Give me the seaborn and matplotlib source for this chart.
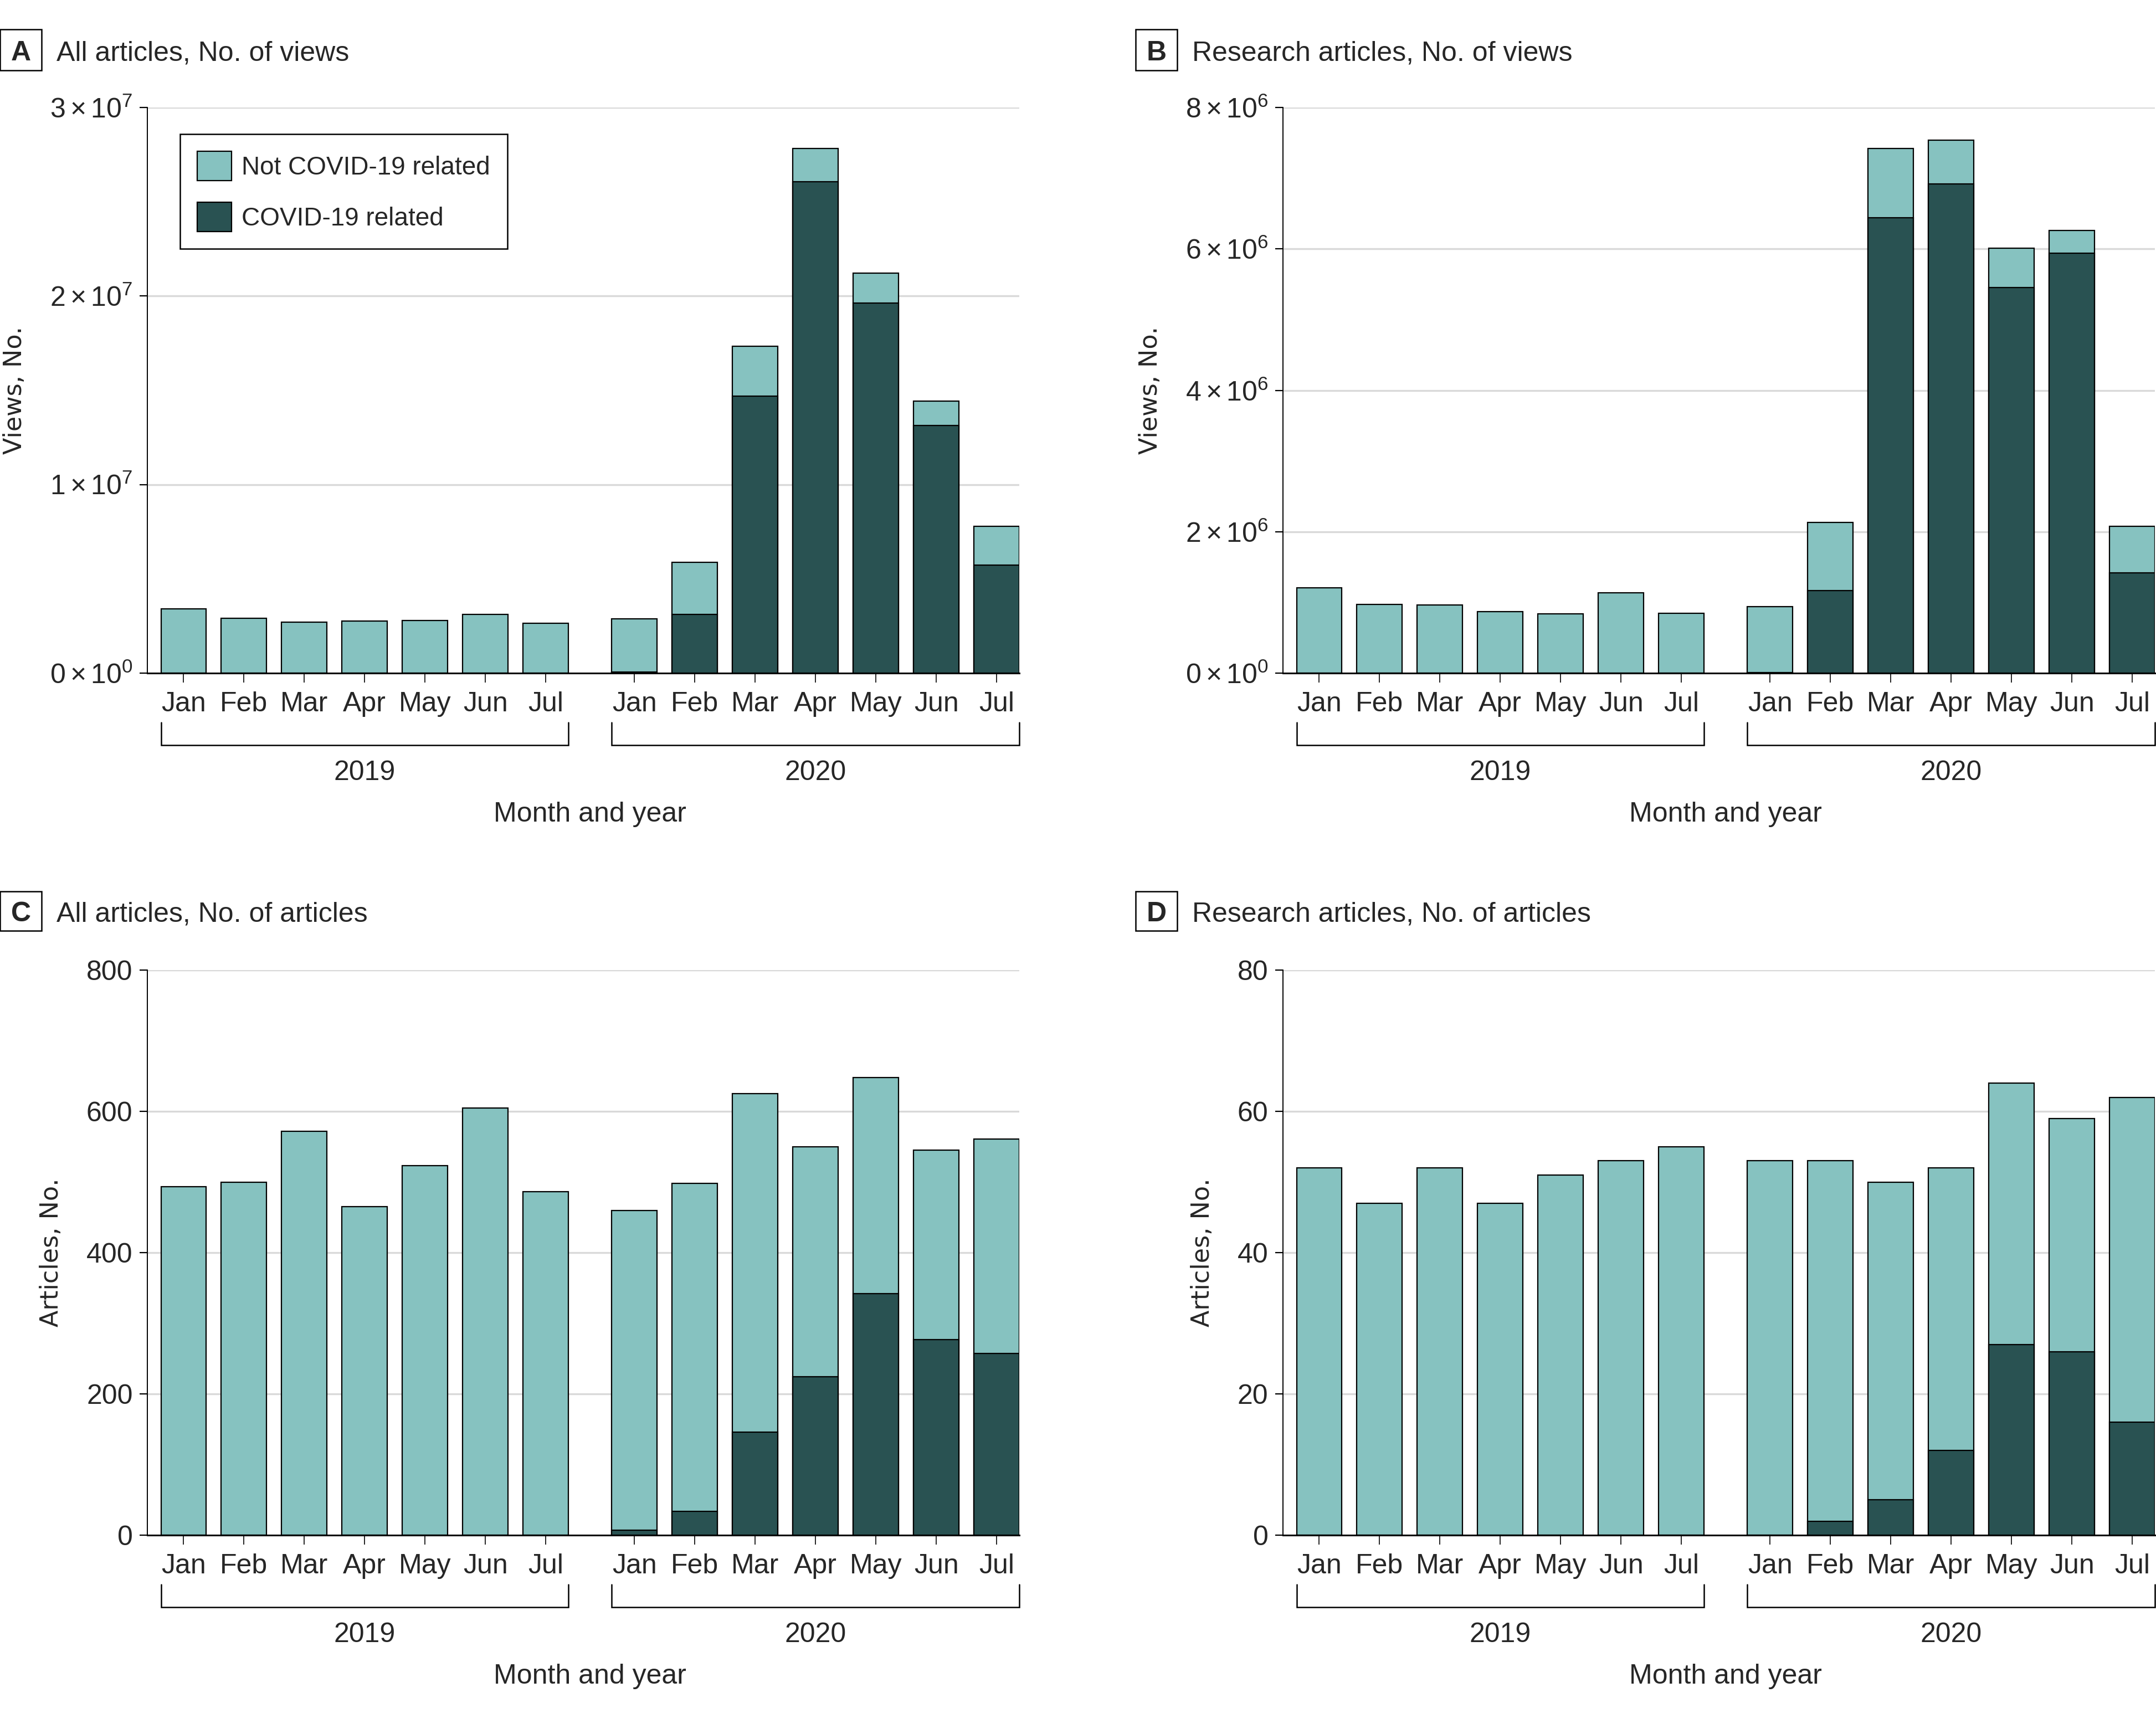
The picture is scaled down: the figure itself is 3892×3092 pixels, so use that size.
import numpy as np
import pandas as pd
import matplotlib
matplotlib.use('Agg')
import matplotlib.pyplot as plt
import seaborn as sns
from matplotlib.patches import Patch, Rectangle

# Months shown on each panel, grouped by year
months = ['Jan', 'Feb', 'Mar', 'Apr', 'May', 'Jun', 'Jul']
years = ['2019', '2020']

# A: all articles, number of views (2019 Jan-Jul, then 2020 Jan-Jul)
views_all_total = [3.40e6, 2.92e6, 2.71e6, 2.76e6, 2.78e6, 3.11e6, 2.64e6,
                   2.87e6, 5.89e6, 17.33e6, 27.82e6, 21.22e6, 14.44e6, 7.78e6]
views_all_covid = [0, 0, 0, 0, 0, 0, 0,
                   0.07e6, 3.10e6, 14.68e6, 26.05e6, 19.63e6, 13.14e6, 5.74e6]

# B: research articles, number of views
views_res_total = [1.21e6, 0.97e6, 0.96e6, 0.87e6, 0.84e6, 1.14e6, 0.85e6,
                   0.94e6, 2.13e6, 7.42e6, 7.54e6, 6.01e6, 6.26e6, 2.08e6]
views_res_covid = [0, 0, 0, 0, 0, 0, 0,
                   0.005e6, 1.17e6, 6.44e6, 6.92e6, 5.45e6, 5.94e6, 1.42e6]

# C: all articles, number of articles
arts_all_total = [493, 500, 572, 465, 523, 605, 486,
                  460, 498, 625, 550, 648, 545, 561]
arts_all_covid = [0, 0, 0, 0, 0, 0, 0,
                  7, 34, 146, 224, 342, 277, 257]

# D: research articles, number of articles
arts_res_total = [52, 47, 52, 47, 51, 53, 55,
                  53, 53, 50, 52, 64, 59, 62]
arts_res_covid = [0, 0, 0, 0, 0, 0, 0,
                  0, 2, 5, 12, 27, 26, 16]

views_all_ticks = [0, 1e7, 2e7, 3e7]
views_res_ticks = [0, 2e6, 4e6, 6e6, 8e6]
arts_all_ticks = [0, 200, 400, 600, 800]
arts_res_ticks = [0, 20, 40, 60, 80]

LIGHT = '#86c2c0'
DARK = '#295252'
GRID = '#d9d9d9'

sns.set_theme(style='white')
plt.rcParams['font.family'] = ['Liberation Sans', 'DejaVu Sans']
plt.rcParams['mathtext.fontset'] = 'custom'
plt.rcParams['mathtext.rm'] = 'Liberation Sans'
plt.rcParams['mathtext.it'] = 'Liberation Sans:italic'
plt.rcParams['mathtext.bf'] = 'Liberation Sans:bold'

W, H = 3892, 3092
fig = plt.figure(figsize=(W / 200, H / 200), dpi=200)

# bar positions: a wider gap between the two years
gap = 1.47
pos = np.r_[np.arange(7), np.arange(7) + 6 + gap]
BW = 0.75


def sci_label(v):
    if v == 0:
        return r'$0\times10^{0}$'
    e = int(np.floor(np.log10(v)))
    m = int(round(v / 10 ** e))
    return r'$%d\times10^{%d}$' % (m, e)


def px_axes(left, top, right, bottom):
    return fig.add_axes([left / W, 1 - bottom / H, (right - left) / W, (bottom - top) / H])


def draw_panel(ax, total, covid, ticks, ylabel, sci):
    df = pd.DataFrame({'pos': pos, 'total': total, 'covid': covid})
    sns.barplot(data=df, x='pos', y='total', native_scale=True, color=LIGHT,
                saturation=1, edgecolor='black', linewidth=0.8, width=BW,
                errorbar=None, ax=ax, zorder=2)
    sns.barplot(data=df, x='pos', y='covid', native_scale=True, color=DARK,
                saturation=1, edgecolor='black', linewidth=0.8, width=BW,
                errorbar=None, ax=ax, zorder=3)
    ax.set_xlim(-0.6, pos[-1] + BW / 2)
    ax.set_ylim(0, ticks[-1])
    ax.set_yticks(ticks)
    if sci:
        ax.set_yticklabels([sci_label(t) for t in ticks])
    else:
        ax.set_yticklabels([str(t) for t in ticks])
    ax.set_xticks(pos)
    ax.set_xticklabels(months + months)
    ax.tick_params(axis='x', direction='out', length=6, width=0.6, pad=6,
                   labelsize=18, color='black', bottom=True)
    ax.tick_params(axis='y', direction='out', length=5, width=0.8, pad=4.5,
                   labelsize=18, color='black', left=True)
    ax.yaxis.grid(True, color=GRID, linewidth=1.2)
    ax.xaxis.grid(False)
    ax.set_axisbelow(True)
    for s in ['top', 'right']:
        ax.spines[s].set_visible(False)
    ax.spines['left'].set_color('black')
    ax.spines['left'].set_linewidth(0.7)
    ax.spines['bottom'].set_color('black')
    ax.spines['bottom'].set_linewidth(1.1)
    ax.spines['bottom'].set_zorder(4)
    ax.set_xlabel('')
    ax.set_ylabel(ylabel, fontfamily='DejaVu Sans', fontsize=16, labelpad=15)

    # year brackets under the month labels
    tr = ax.get_xaxis_transform()
    ah = ax.get_position().height * H
    y_top = -89 / ah
    y_bot = -130 / ah
    for i, yr in enumerate(years):
        x0 = pos[7 * i] - BW / 2
        x1 = pos[7 * i + 6] + BW / 2
        ax.plot([x0, x0, x1, x1], [y_top, y_bot, y_bot, y_top], transform=tr,
                color='black', linewidth=0.9, clip_on=False,
                solid_joinstyle='miter')
        ax.text((x0 + x1) / 2, -193 / ah, yr, transform=tr, ha='center',
                va='baseline', fontsize=18)
    xm = (pos[0] - BW / 2 + pos[-1] + BW / 2) / 2
    ax.text(xm, -268 / ah, 'Month and year', transform=tr, ha='center',
            va='baseline', fontsize=18)


def panel_title(letter, title, box_x, box_top, box_bot):
    rect = Rectangle((box_x / W, 1 - box_bot / H), 75 / W, (box_bot - box_top) / H,
                     transform=fig.transFigure, facecolor='white',
                     edgecolor='black', linewidth=0.9)
    fig.patches.append(rect)
    base = (box_top + box_bot) / 2 + 19
    fig.text((box_x + 37.5) / W, 1 - base / H, letter, ha='center',
             va='baseline', fontsize=18, fontweight='bold')
    fig.text((box_x + 102) / W, 1 - base / H, title, ha='left',
             va='baseline', fontsize=18)


axA = px_axes(266, 194, 1840, 1215)
axB = px_axes(2316, 194, 3890, 1215)
axC = px_axes(266, 1751, 1840, 2771)
axD = px_axes(2316, 1751, 3890, 2771)

draw_panel(axA, views_all_total, views_all_covid, views_all_ticks, 'Views, No.', True)
draw_panel(axB, views_res_total, views_res_covid, views_res_ticks, 'Views, No.', True)
draw_panel(axC, arts_all_total, arts_all_covid, arts_all_ticks, 'Articles, No.', False)
draw_panel(axD, arts_res_total, arts_res_covid, arts_res_ticks, 'Articles, No.', False)

handles = [Patch(facecolor=LIGHT, edgecolor='black', linewidth=0.8, label='Not COVID-19 related'),
           Patch(facecolor=DARK, edgecolor='black', linewidth=0.8, label='COVID-19 related')]
leg = axA.legend(handles=handles, loc='upper left', bbox_to_anchor=(0.0375, 0.953),
                 borderaxespad=0, frameon=True, fancybox=False, edgecolor='black',
                 framealpha=1, fontsize=16.5, handlelength=1.35, handleheight=1.4,
                 labelspacing=0.85, borderpad=0.68, handletextpad=0.39)
leg.get_frame().set_linewidth(0.9)

panel_title('A', 'All articles, No. of views', 0, 53, 127)
panel_title('B', 'Research articles, No. of views', 2050, 53, 127)
panel_title('C', 'All articles, No. of articles', 0, 1609, 1680)
panel_title('D', 'Research articles, No. of articles', 2050, 1609, 1680)

fig.savefig('out.png', dpi=200, facecolor='white')
